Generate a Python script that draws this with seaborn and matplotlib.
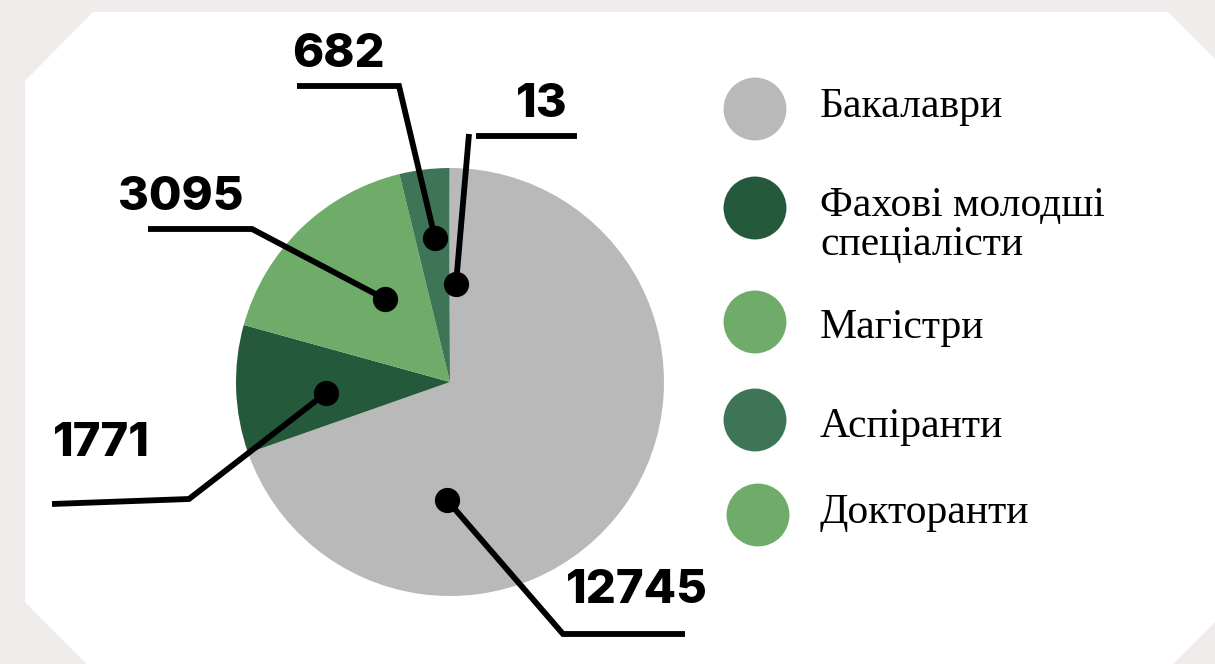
import matplotlib
matplotlib.use("Agg")
import matplotlib.pyplot as plt
from matplotlib.patches import Polygon
import seaborn as sns
import pandas as pd

# -------------------------------
# Data
# -------------------------------
categories = ["Бакалаври", "Фахові молодші\nспеціалісти", "Магістри", "Аспіранти", "Докторанти"]
values = [12745, 1771, 3095, 682, 13]
colors = ["#b9b9b9", "#245a3b", "#6fac6a", "#3e7557", "#6fac6a"]

# -------------------------------
# Layout (image pixel coords, y measured from top)
# -------------------------------
W, H = 1215, 664
pie_center = (450, 382)
pie_radius = 214

# label leader lines: dot -> elbow -> end
leaders = [
    [(447, 500), (563, 634), (685, 634)],
    [(326, 393), (189, 499), (52, 504)],
    [(385, 299), (252, 229), (148, 229)],
    [(435, 238), (399, 86), (297, 86)],
    [(456, 284), (469, 134)],
]
extra_segments = [[(476, 136), (577, 136)]]
label_pos = [(708, 603, "right"), (150, 456, "right"), (244, 210, "right"),
             (385, 67, "right"), (568, 117, "right")]

legend_dot = [(755, 109), (755, 208), (755, 322), (755, 420), (758, 515)]
legend_text = [(820, 117), (820, 255), (820, 338), (820, 437), (820, 523)]

bg = "#f0ecec"

sns.set_theme(style="white")
plt.rcParams["font.family"] = ["Liberation Serif", "DejaVu Serif"]

fig = plt.figure(figsize=(W / 100, H / 100), dpi=100)
fig.patch.set_facecolor(bg)
ax = fig.add_axes([0, 0, 1, 1])


def fy(y):
    return H - y


# white panel with cut corners
panel = [(25, fy(81)), (93, fy(12)), (1168, fy(12)), (1215, fy(59)), (1215, fy(622)),
         (1173, fy(664)), (87, fy(664)), (25, fy(602))]
ax.add_patch(Polygon(panel, closed=True, facecolor="white", edgecolor="none", zorder=0))

# pie
ax.pie(values, colors=colors, startangle=90, counterclock=False,
       center=(pie_center[0], fy(pie_center[1])), radius=pie_radius,
       wedgeprops=dict(linewidth=0), frame=False)

# leader lines and dots
for pts in leaders + extra_segments:
    ax.plot([p[0] for p in pts], [fy(p[1]) for p in pts], color="black",
            lw=4.2, solid_capstyle="butt", solid_joinstyle="miter", zorder=5)

dots = pd.DataFrame({"x": [l[0][0] for l in leaders],
                     "y": [fy(l[0][1]) for l in leaders]})
sns.scatterplot(data=dots, x="x", y="y", color="black", s=330, linewidth=0,
                ax=ax, zorder=6, legend=False)

# value labels
for v, (x, y, ha) in zip(values, label_pos):
    ax.text(x, fy(y), f"{v}", ha=ha, va="baseline", fontsize=34,
            fontweight="heavy", family=["Inter", "DejaVu Sans"], color="black", zorder=7)

# legend
leg = pd.DataFrame({"x": [p[0] for p in legend_dot],
                    "y": [fy(p[1]) for p in legend_dot],
                    "cat": categories})
sns.scatterplot(data=leg, x="x", y="y", hue="cat", palette=colors, s=2050,
                linewidth=0, ax=ax, legend=False, zorder=6)
for cat, (x, y) in zip(categories, legend_text):
    ax.text(x, fy(y), cat, ha="left", va="baseline", fontsize=30,
            color="black", linespacing=1.0)

ax.set_xlim(0, W)
ax.set_ylim(0, H)
ax.set_aspect("equal")
ax.set_axis_off()

fig.savefig("out.png", dpi=100, facecolor=bg)
